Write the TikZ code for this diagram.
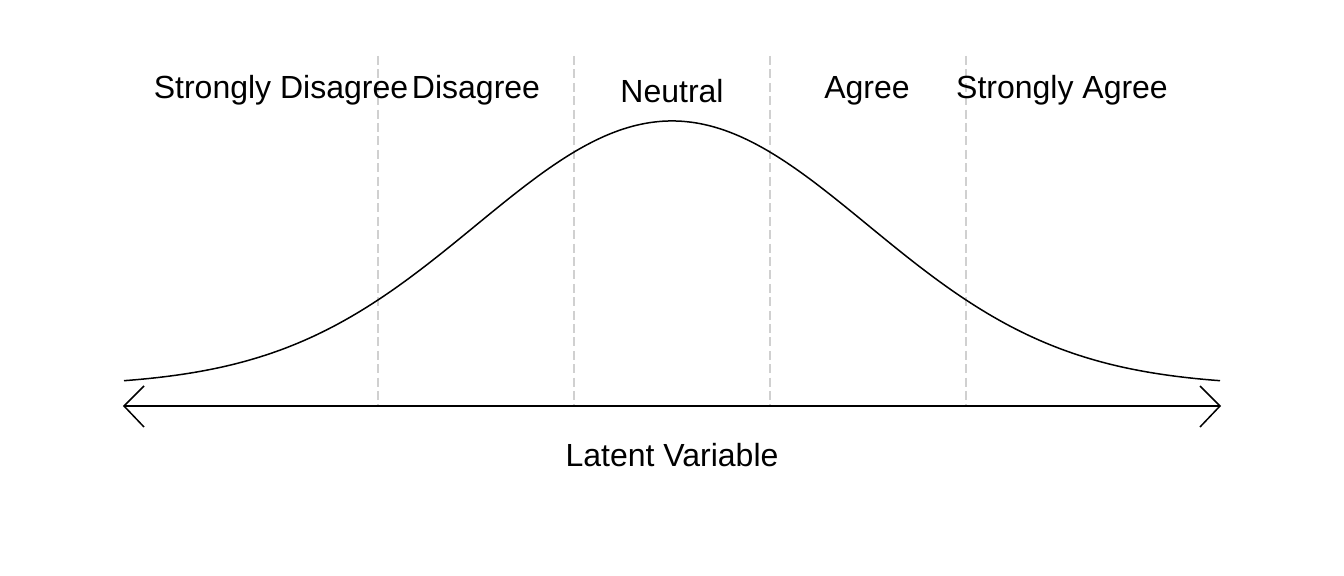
\documentclass[tikz,border=0pt]{standalone}
\usepackage{fontspec}
\setmainfont{Liberation Sans}
\begin{document}
\begin{tikzpicture}[x=0.5pt,y=-0.5pt,
  lab/.style={anchor=base,inner sep=0pt,font=\fontsize{16pt}{19pt}\selectfont},
  cut/.style={draw={rgb,255:red,208;green,208;blue,208},line width=1pt,dash pattern=on 4.5pt off 2.2pt},
  curve/.style={draw=black,line width=0.75pt},
  axis/.style={draw=black,line width=0.75pt,line join=miter}]
\useasboundingbox (0,0) rectangle (1344,576);
% dashed thresholds
\foreach \cx/\nm in {378/t1,574/t2,770/t3,966/t4}{
  \coordinate (\nm top) at (\cx,56);
  \coordinate (\nm bot) at (\cx,406);
  \draw[cut] (\nm top) -- (\nm bot);
}
% density curve
\draw[curve] plot[domain=124:1220,samples=300,smooth] (\x,{386-265*exp(-((\x-672)/196)^2/2)});
% axis
\coordinate (L) at (124,406);
\coordinate (R) at (1220,406);
\draw[axis] (L) -- (R);
\draw[axis] (144,386) -- (L) -- (144,427);
\draw[axis] (1200,386) -- (R) -- (1200,427);
% labels
\node[lab] (sd) at (281,98.5) {Strongly Disagree};
\node[lab] (d) at (476,98.5) {Disagree};
\node[lab] (n) at (672,102.5) {Neutral};
\node[lab] (a) at (867,98.5) {Agree};
\node[lab] (sa) at (1062,98.5) {Strongly Agree};
\node[lab] (lv) at (672,466.5) {Latent Variable};
\end{tikzpicture}
\end{document}
